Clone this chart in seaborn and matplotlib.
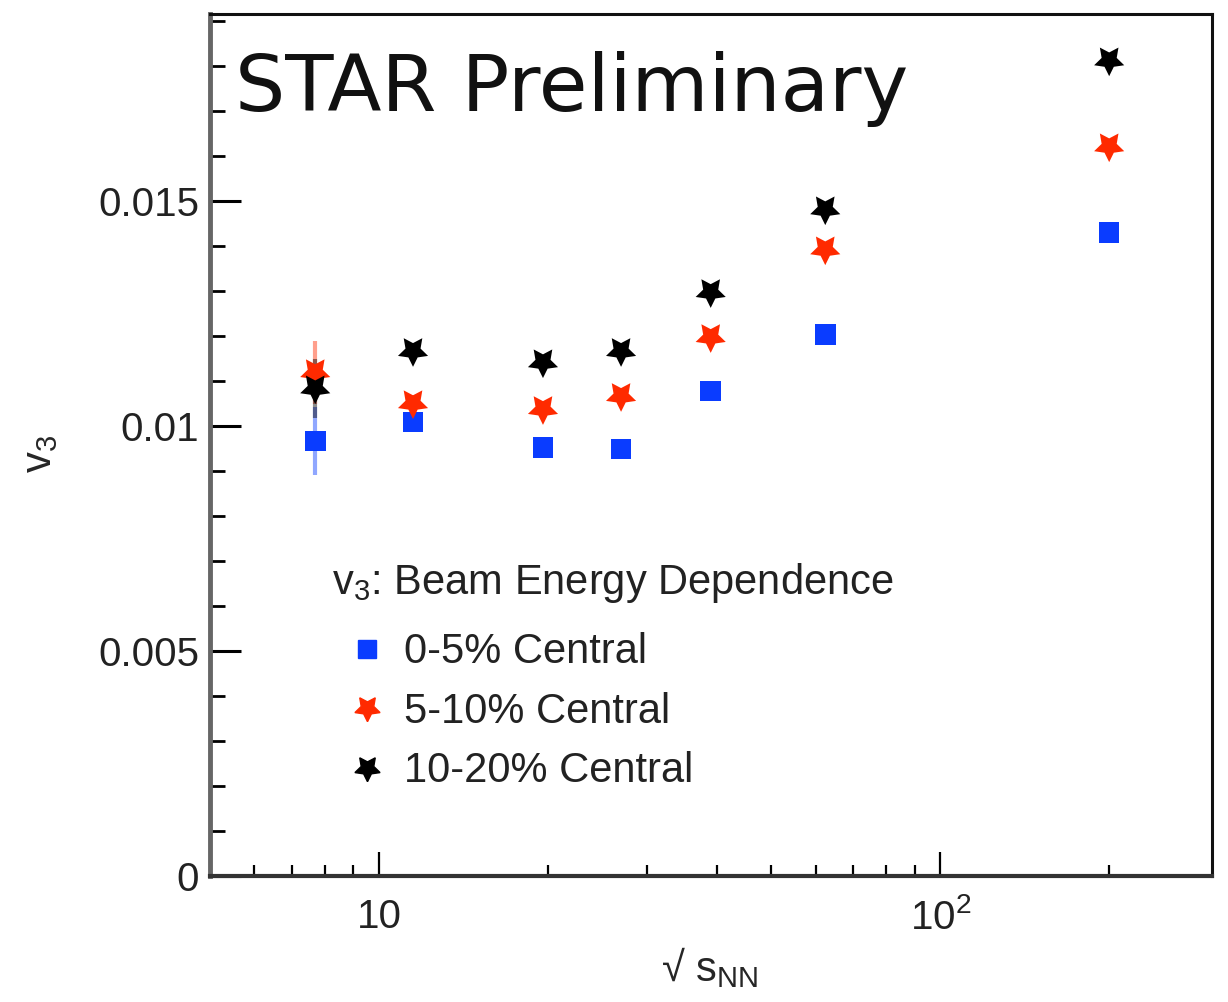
import numpy as np
import pandas as pd
import matplotlib
matplotlib.use('Agg')
import matplotlib.pyplot as plt
import seaborn as sns
from matplotlib.ticker import FixedLocator, FixedFormatter, MultipleLocator
from matplotlib.lines import Line2D

# ---- data ----
energy = [7.7, 11.5, 19.6, 27, 39, 62.4, 200]
v3_0_5 = [0.00967, 0.01009, 0.00953, 0.00949, 0.01078, 0.01204, 0.01431]
v3_5_10 = [0.01120, 0.01051, 0.01038, 0.01067, 0.01198, 0.01393, 0.01622]
v3_10_20 = [0.01084, 0.01167, 0.01142, 0.01167, 0.01298, 0.01482, 0.01813]
err_0_5 = [0.00075, 0.00015, 0.00008, 0.00008, 0.00010, 0.00010, 0.00006]
err_5_10 = [0.00070, 0.00018, 0.00012, 0.00012, 0.00012, 0.00012, 0.00008]
err_10_20 = [0.00065, 0.00012, 0.00010, 0.00010, 0.00010, 0.00010, 0.00008]
labels = ['0-5% Central', '5-10% Central', '10-20% Central']

sns.set_style('white')
plt.rcParams['font.family'] = ['Liberation Sans', 'DejaVu Sans']
plt.rcParams['mathtext.default'] = 'regular'

df = pd.DataFrame({
    'energy': energy * 3,
    'v3': v3_0_5 + v3_5_10 + v3_10_20,
    'err': err_0_5 + err_5_10 + err_10_20,
    'centrality': np.repeat(labels, len(energy)),
})

colors = {labels[0]: '#0a3cff', labels[1]: '#ff2a00', labels[2]: 'black'}
star_down = (5, 1, 180)
markers = {labels[0]: 's', labels[1]: star_down, labels[2]: star_down}
sizes = {labels[0]: 220, labels[1]: 520, labels[2]: 520}

fig = plt.figure(figsize=(12.28, 10.02), dpi=100)
ax = fig.add_axes([0.171, 0.1257, 0.816, 0.8603])

for lab in labels:
    sub = df[df['centrality'] == lab]
    ax.errorbar(sub['energy'], sub['v3'], yerr=sub['err'], fmt='none',
                ecolor=colors[lab], elinewidth=3, alpha=0.45, capsize=0)
    sns.scatterplot(data=sub, x='energy', y='v3', ax=ax, color=colors[lab],
                    marker=markers[lab], s=sizes[lab], edgecolor='none',
                    linewidth=0, legend=False, zorder=3)

ax.set_xscale('log')
ax.set_xlim(5.0, 305)
ax.set_ylim(0, 0.01916)

ax.xaxis.set_major_locator(FixedLocator([10, 100]))
ax.xaxis.set_major_formatter(FixedFormatter(['10', '$10^{2}$']))
ax.xaxis.set_minor_locator(FixedLocator([6, 7, 8, 9, 20, 30, 40, 50, 60, 70, 80, 90, 200]))
ax.xaxis.set_minor_formatter(FixedFormatter([]))

ax.yaxis.set_major_locator(FixedLocator([0, 0.005, 0.01, 0.015]))
ax.yaxis.set_major_formatter(FixedFormatter(['0', '0.005', '0.01', '0.015']))
ax.yaxis.set_minor_locator(MultipleLocator(0.001))

ax.tick_params(axis='both', which='both', direction='in', top=False, right=False,
               bottom=True, left=True, color='black')
ax.tick_params(axis='y', which='major', length=22, width=2.2, labelsize=29, pad=8,
               labelcolor='#222222')
ax.tick_params(axis='y', which='minor', length=11, width=2)
ax.tick_params(axis='x', which='major', length=17, width=1.6, labelsize=29, pad=16,
               labelcolor='#222222')
ax.tick_params(axis='x', which='minor', length=8, width=1.6)

for side in ['top', 'right']:
    ax.spines[side].set_color('#111111')
    ax.spines[side].set_linewidth(2.2)
ax.spines['left'].set_color('#666666')
ax.spines['left'].set_linewidth(3.5)
ax.spines['bottom'].set_color('#333333')
ax.spines['bottom'].set_linewidth(3)

ax.set_xlabel('√ s$_{NN}$', fontsize=30)
ax.xaxis.set_label_coords(0.499, -0.080)
ax.set_ylabel('v$_{3}$', fontsize=30)
ax.yaxis.set_label_coords(-0.150, 0.49)

ax.text(0.025, 0.913, 'STAR Preliminary', transform=ax.transAxes,
        fontsize=57, family='DejaVu Sans', va='center', ha='left', color='#111111')

ax.text(0.122, 0.340, 'v$_{3}$: Beam Energy Dependence', transform=ax.transAxes,
        fontsize=30, va='center', ha='left', color='#222222')

handles = [
    Line2D([], [], ls='none', marker='s', color=colors[labels[0]], markersize=13),
    Line2D([], [], ls='none', marker=star_down, color=colors[labels[1]], markersize=19),
    Line2D([], [], ls='none', marker=star_down, color=colors[labels[2]], markersize=19),
]
leg = ax.legend(handles, labels, loc='upper left', bbox_to_anchor=(0.140, 0.283),
                frameon=False, fontsize=30, handlelength=0.8, handletextpad=0.5,
                labelspacing=0.47, borderpad=0, borderaxespad=0, labelcolor='#222222')

fig.savefig('out.png', dpi=100)
